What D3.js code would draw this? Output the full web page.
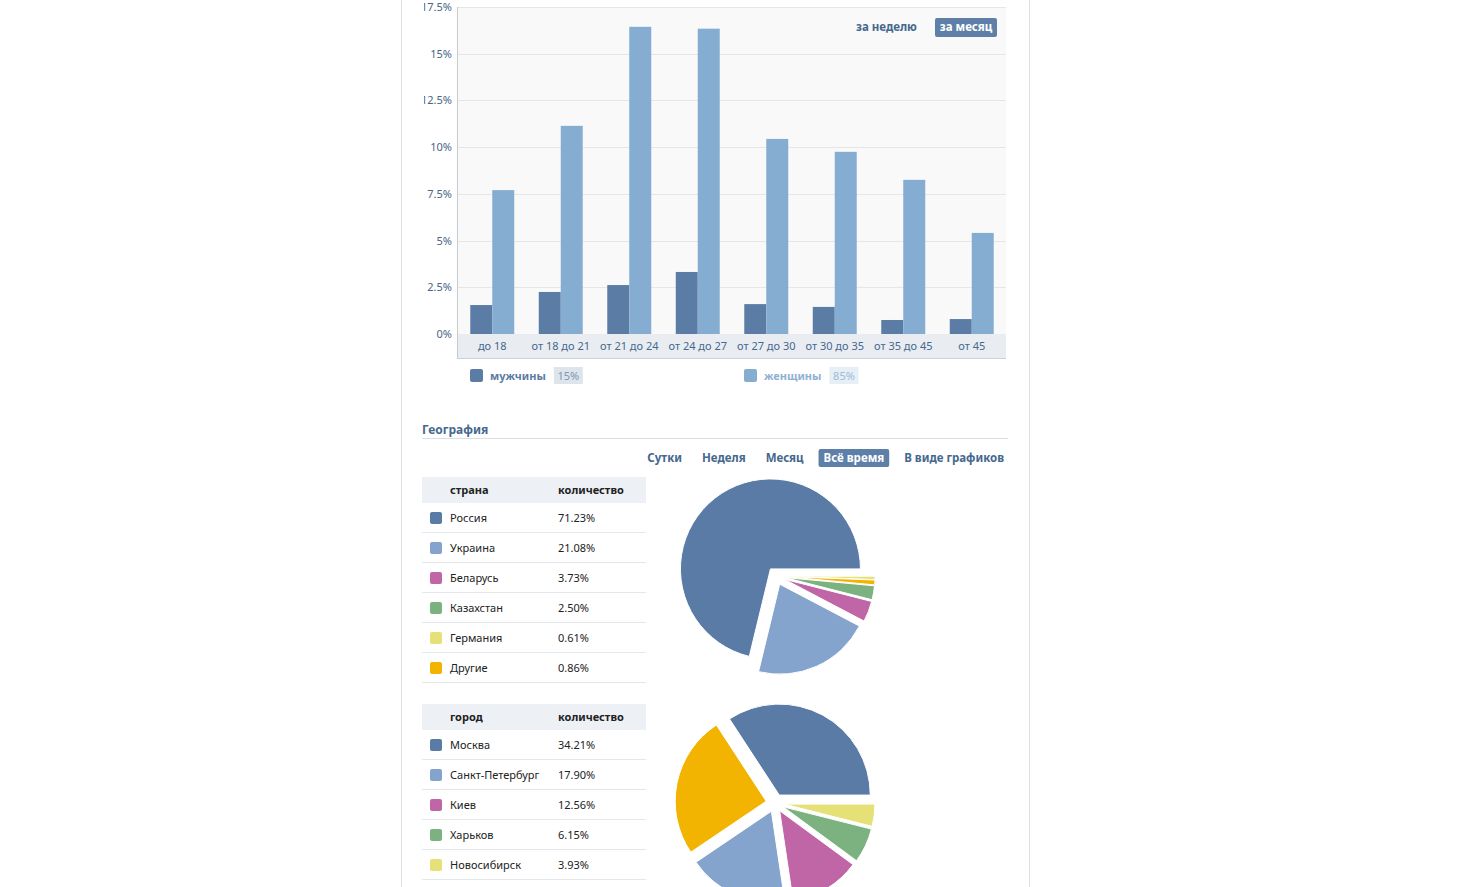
<!DOCTYPE html>
<html>
<head>
<meta charset="utf-8">
<script src="https://cdn.jsdelivr.net/npm/d3@7"></script>
<style>
  body { margin: 0; background: #fff; overflow: hidden; }
  svg text { font-family: Tahoma, "Noto Sans", "DejaVu Sans", sans-serif; }
</style>
</head>
<body>
<div class="chart"></div>
<script>
// ages & shares
const ageGroups = ['до 18', 'от 18 до 21', 'от 21 до 24', 'от 24 до 27', 'от 27 до 30', 'от 30 до 35', 'от 35 до 45', 'от 45'];
const maleShare = [1.55, 2.25, 2.62, 3.32, 1.6, 1.45, 0.75, 0.8];
const femaleShare = [7.7, 11.14, 16.44, 16.34, 10.44, 9.75, 8.25, 5.41];
const yTicks = [0, 2.5, 5, 7.5, 10, 12.5, 15, 17.5];
const sexLabels = ['мужчины', 'женщины'];
const sexTotals = ['15%', '85%'];

const periodTabs = ['Сутки', 'Неделя', 'Месяц', 'Всё время', 'В виде графиков'];

const countries = ['Россия', 'Украина', 'Беларусь', 'Казахстан', 'Германия', 'Другие'];
const countryShare = [71.23, 21.08, 3.73, 2.50, 0.61, 0.86];
const cities = ['Москва', 'Санкт-Петербург', 'Киев', 'Харьков', 'Новосибирск', 'Другие'];
const cityShare = [34.21, 17.90, 12.56, 6.15, 3.93, 25.25];

const W = 1477, H = 887;
const FONT = 'Tahoma, "Noto Sans", "DejaVu Sans", sans-serif';
const blueText = '#45688e';
const sliceColors = ['#5a7ba6', '#84a3cd', '#c066a6', '#7cb27f', '#e6e176', '#f2b400'];

const svg = d3.select('.chart')
  .append('svg')
    .attr('width', W)
    .attr('height', H);

// card
svg.append('rect')
  .attr('x', 401.5).attr('y', -2)
  .attr('width', 628).attr('height', H + 10)
  .attr('fill', '#fff')
  .attr('stroke', '#dbe1e8');

// ---------- age / sex bars ----------
const plot = {left: 458, right: 1006, top: 7, zero: 334, bottom: 358};

const x = d3.scaleBand()
  .domain(ageGroups)
  .range([plot.left, plot.right])
  .paddingInner(0.358)
  .paddingOuter(0.179);

const xi = d3.scaleBand()
  .domain([0, 1])
  .range([0, x.bandwidth()]);

const y = d3.scaleLinear()
  .domain([0, 17.5])
  .range([plot.zero, plot.top]);

svg.append('rect')
  .attr('x', plot.left).attr('y', plot.top)
  .attr('width', plot.right - plot.left).attr('height', plot.zero - plot.top)
  .attr('fill', '#f9f9f9');

svg.append('g')
  .selectAll('line')
  .data(yTicks)
  .enter()
  .append('line')
    .attr('x1', plot.left).attr('x2', plot.right)
    .attr('y1', d => Math.round(y(d)) + 0.5)
    .attr('y2', d => Math.round(y(d)) + 0.5)
    .attr('stroke', '#e6e6e6');

// x axis band
svg.append('rect')
  .attr('x', plot.left).attr('y', plot.zero)
  .attr('width', plot.right - plot.left).attr('height', plot.bottom - plot.zero)
  .attr('fill', '#e9edf1');
svg.append('line')
  .attr('x1', plot.left).attr('x2', plot.right)
  .attr('y1', plot.bottom + 0.5).attr('y2', plot.bottom + 0.5)
  .attr('stroke', '#c9d1da');
svg.append('line')
  .attr('x1', plot.left - 0.5).attr('x2', plot.left - 0.5)
  .attr('y1', plot.top).attr('y2', plot.bottom + 1)
  .attr('stroke', '#c3cad2');

// y ticks are cut at the left of the chart in the original
// (clip rect is in the axis group's own coordinates)
svg.append('clipPath').attr('id', 'yclip')
  .append('rect').attr('x', 424 - plot.left).attr('y', 0).attr('width', 40).attr('height', 400);

const yAxis = svg.append('g')
  .attr('transform', `translate(${plot.left},0)`)
  .attr('clip-path', 'url(#yclip)')
  .call(d3.axisLeft(y).tickValues(yTicks).tickSize(0).tickPadding(6).tickFormat(d => d + '%'));
yAxis.select('.domain').remove();
yAxis.selectAll('text')
  .attr('font-family', FONT)
  .attr('font-size', '11px')
  .attr('fill', '#4a6586');

const xAxis = svg.append('g')
  .attr('transform', `translate(0,${plot.zero})`)
  .call(d3.axisBottom(x).tickSize(0).tickPadding(8));
xAxis.select('.domain').remove();
xAxis.selectAll('text')
  .attr('font-family', FONT)
  .attr('font-size', '11px')
  .attr('fill', blueText);

const series = [maleShare, femaleShare];
const barColors = ['#5b7ca5', '#85add1'];

series.forEach((vals, s) => {
  svg.append('g')
    .selectAll('rect')
    .data(vals)
    .enter()
    .append('rect')
      .attr('x', (d, i) => x(ageGroups[i]) + xi(s))
      .attr('y', d => y(d))
      .attr('width', xi.bandwidth())
      .attr('height', d => y(0) - y(d))
      .attr('fill', barColors[s]);
});

// period switch
svg.append('text')
  .attr('x', 856).attr('y', 31)
  .attr('font-size', '11.5px').attr('font-weight', 'bold')
  .attr('fill', blueText)
  .text('за неделю');
svg.append('rect')
  .attr('x', 935).attr('y', 18).attr('width', 62).attr('height', 19).attr('rx', 2)
  .attr('fill', '#5e80a8');
svg.append('text')
  .attr('x', 966).attr('y', 31)
  .attr('text-anchor', 'middle')
  .attr('font-size', '11.5px').attr('font-weight', 'bold')
  .attr('fill', '#fff')
  .text('за месяц');

// legend
const legendX = [470, 744];
const legendText = ['#5b7ba3', '#8fb0d3'];
const badgeFill = ['#dde4ec', '#e6eef6'];
const badgeText = ['#7f97b2', '#9fbad6'];

sexLabels.forEach((label, i) => {
  const g = svg.append('g').attr('transform', `translate(${legendX[i]},369)`);
  g.append('rect')
    .attr('width', 13).attr('height', 13).attr('rx', 2)
    .attr('fill', barColors[i]);
  const t = g.append('text')
    .attr('x', 20).attr('y', 11)
    .attr('font-size', '11px').attr('font-weight', 'bold')
    .attr('fill', legendText[i])
    .text(label);
  const tw = t.node().getComputedTextLength();
  g.append('rect')
    .attr('x', 20 + tw + 8).attr('y', -2)
    .attr('width', 29).attr('height', 17)
    .attr('fill', badgeFill[i]);
  g.append('text')
    .attr('x', 20 + tw + 8 + 14.5).attr('y', 11)
    .attr('text-anchor', 'middle')
    .attr('font-size', '11px')
    .attr('fill', badgeText[i])
    .text(sexTotals[i]);
});

// ---------- geography ----------
svg.append('text')
  .attr('x', 422).attr('y', 434)
  .attr('font-size', '12px').attr('font-weight', 'bold')
  .attr('fill', blueText)
  .text('География');
svg.append('line')
  .attr('x1', 422).attr('x2', 1008)
  .attr('y1', 438.5).attr('y2', 438.5)
  .attr('stroke', '#d8dfe6');

// tabs are laid out right to left from the card edge
let tabRight = 1004;
const tabNodes = [];
periodTabs.slice().reverse().forEach(tab => {
  const t = svg.append('text')
    .attr('y', 462)
    .attr('text-anchor', 'end')
    .attr('font-size', '11.5px').attr('font-weight', 'bold')
    .attr('fill', blueText)
    .text(tab);
  const tw = t.node().getComputedTextLength();
  t.attr('x', tabRight);
  tabNodes.push({tab, t, right: tabRight, w: tw});
  tabRight -= tw + 20;
});
tabNodes.filter(d => d.tab === 'Всё время').forEach(d => {
  svg.insert('rect', () => d.t.node())
    .attr('x', d.right - d.w - 5).attr('y', 449)
    .attr('width', d.w + 10).attr('height', 18).attr('rx', 2)
    .attr('fill', '#5e80a8');
  d.t.attr('fill', '#fff');
});

function drawTable(top, head, names, vals) {
  const g = svg.append('g');
  g.append('rect')
    .attr('x', 422).attr('y', top)
    .attr('width', 224).attr('height', 26)
    .attr('fill', '#edf1f5');
  g.append('text')
    .attr('x', 450).attr('y', top + 17)
    .attr('font-size', '11px').attr('font-weight', 'bold')
    .attr('fill', '#222')
    .text(head);
  g.append('text')
    .attr('x', 558).attr('y', top + 17)
    .attr('font-size', '11px').attr('font-weight', 'bold')
    .attr('fill', '#222')
    .text('количество');

  // rows below the bottom of the window are not drawn
  const visible = names.map((n, i) => i).filter(i => top + 26 + i * 30 + 25 < H);

  const rows = g.selectAll('g.row')
    .data(visible)
    .enter()
    .append('g')
      .attr('class', 'row')
      .attr('transform', i => `translate(0,${top + 26 + i * 30})`);

  rows.append('rect')
    .attr('x', 430).attr('y', 9)
    .attr('width', 12).attr('height', 12).attr('rx', 2)
    .attr('fill', i => sliceColors[i]);
  rows.append('text')
    .attr('x', 450).attr('y', 19)
    .attr('font-size', '11px')
    .attr('fill', '#222')
    .text(i => names[i]);
  rows.append('text')
    .attr('x', 558).attr('y', 19)
    .attr('font-size', '11px')
    .attr('fill', '#222')
    .text(i => vals[i].toFixed(2) + '%');
  rows.append('line')
    .attr('x1', 422).attr('x2', 646)
    .attr('y1', 29.5).attr('y2', 29.5)
    .attr('stroke', '#e4e8ed');
}

drawTable(477, 'страна', countries, countryShare);
drawTable(704, 'город', cities, cityShare);

// exploded pies, counter-clockwise from 3 o'clock, biggest first
function drawPie(cx, cy, r, names, vals) {
  const items = names.map((n, i) => ({name: n, v: vals[i], c: sliceColors[i]}));
  const pie = d3.pie()
    .value(d => d.v)
    .sort((a, b) => b.v - a.v)
    .startAngle(Math.PI / 2)
    .endAngle(Math.PI / 2 - 2 * Math.PI);
  const arc = d3.arc().innerRadius(0).outerRadius(r);
  const gap = 9;

  svg.append('g')
    .attr('transform', `translate(${cx},${cy})`)
    .selectAll('path')
    .data(pie(items))
    .enter()
    .append('path')
      .attr('d', arc)
      .attr('transform', d => {
        const a = (d.startAngle + d.endAngle) / 2;
        return `translate(${Math.sin(a) * gap},${-Math.cos(a) * gap})`;
      })
      .attr('fill', d => d.data.c)
      .attr('stroke', '#fff')
      .attr('stroke-width', 1);
}

drawPie(776, 576, 90, countries, countryShare);
drawPie(775, 803, 91, cities, cityShare);
</script>
</body>
</html>
